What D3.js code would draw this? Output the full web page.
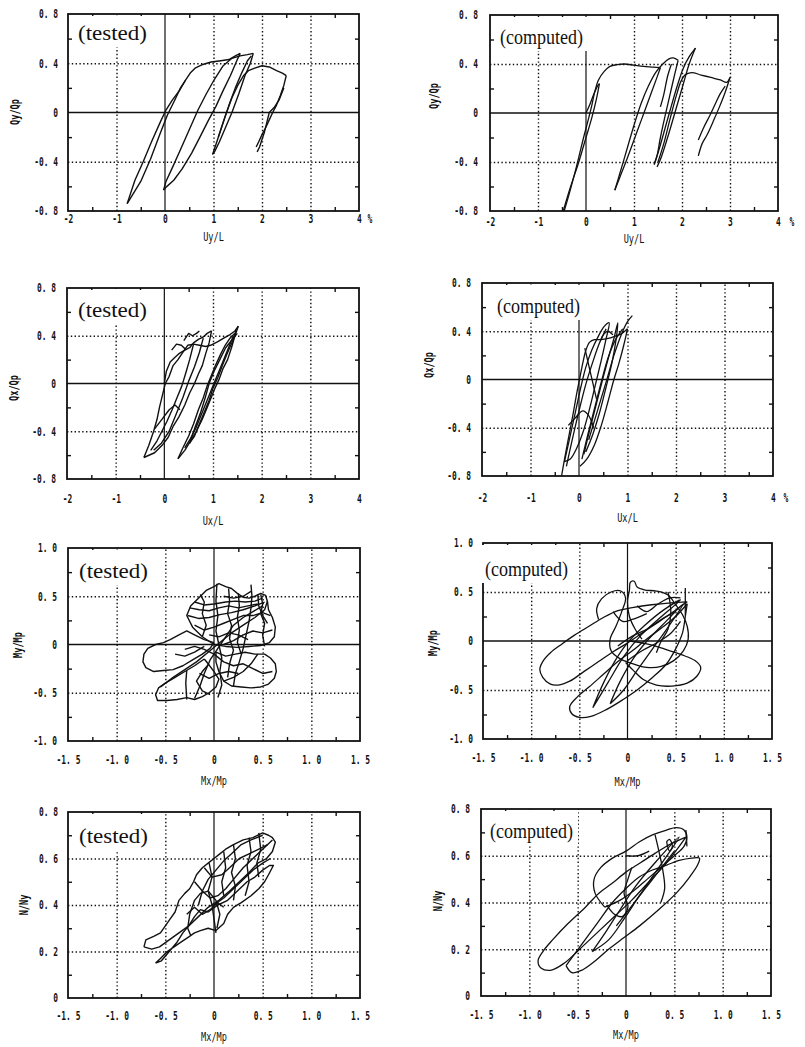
<!DOCTYPE html>
<html>
<head>
<meta charset="utf-8">
<script src="https://cdn.jsdelivr.net/npm/d3@7"></script>
<style>
  body { margin: 0; background: #fff; }
  svg { display: block; }
</style>
</head>
<body>
<svg id="chart"></svg>
<script>
const width = 805, height = 1047;

// ---- tick values and labels ----
const xTicksU = [-2, -1, 0, 1, 2, 3, 4];
const xLabelsU = ["-2", "-1", "0", "1", "2", "3", "4"];
const yTicksQ = [-0.8, -0.4, 0, 0.4, 0.8];
const yLabelsQ = ["-0. 8", "-0. 4", "0", "0. 4", "0. 8"];
const xTicksM = [-1.5, -1, -0.5, 0, 0.5, 1, 1.5];
const xLabelsM = ["-1. 5", "-1. 0", "-0. 5", "0", "0. 5", "1. 0", "1. 5"];
const yTicksMy = [-1, -0.5, 0, 0.5, 1];
const yLabelsMy = ["-1. 0", "-0. 5", "0", "0. 5", "1. 0"];
const yTicksN = [0, 0.2, 0.4, 0.6, 0.8];
const yLabelsN = ["0", "0. 2", "0. 4", "0. 6", "0. 8"];

// ---- curves, [x, y] in data units, one array per stroke ----
const qyTested = [
  [[0.42,0.26],[0.32,0.2],[0.2,0.1],[0.05,-0.02],[-0.1,-0.17],[-0.3,-0.38],[-0.5,-0.56],[-0.78,-0.74]],
  [[-0.78,-0.74],[-0.62,-0.55],[-0.45,-0.4],[-0.28,-0.24],[-0.1,-0.08],[0.02,0.02],[0.15,0.1],[0.3,0.18],[0.42,0.26],[0.52,0.32],[0.62,0.36],[0.78,0.39],[0.95,0.41],[1.15,0.42],[1.32,0.43],[1.45,0.46],[1.55,0.48]],
  [[1.55,0.48],[1.48,0.42],[1.35,0.3],[1.2,0.18],[1.05,0.05],[0.9,-0.06],[0.72,-0.2],[0.55,-0.33],[0.35,-0.46],[0.18,-0.55],[0.04,-0.6],[-0.03,-0.63]],
  [[-0.03,-0.63],[0.02,-0.56],[0.15,-0.45],[0.32,-0.3],[0.5,-0.14],[0.68,0.02],[0.85,0.15],[1.02,0.27],[1.2,0.38],[1.38,0.44],[1.55,0.46],[1.7,0.47],[1.82,0.48]],
  [[1.82,0.48],[1.76,0.4],[1.65,0.3],[1.52,0.15],[1.38,0.0],[1.25,-0.12],[1.12,-0.24],[1.02,-0.32],[0.98,-0.34]],
  [[0.98,-0.34],[1.05,-0.26],[1.15,-0.14],[1.25,-0.02],[1.38,0.12],[1.5,0.22],[1.62,0.3],[1.72,0.34],[1.85,0.36],[2.0,0.38],[2.15,0.37],[2.3,0.34],[2.42,0.32],[2.5,0.3]],
  [[2.5,0.3],[2.45,0.22],[2.38,0.14],[2.3,0.06],[2.22,0.0],[2.15,-0.06],[2.08,-0.12],[2.0,-0.18],[1.93,-0.24],[1.88,-0.28]],
  [[2.45,0.2],[2.35,0.1],[2.25,0.04],[2.15,0.0],[2.1,-0.08],[2.05,-0.16],[2.0,-0.22],[1.95,-0.28],[1.9,-0.32]],
  [[1.1,-0.2],[1.2,-0.08],[1.32,0.06],[1.45,0.2],[1.58,0.32],[1.7,0.42],[1.78,0.46]]
];
const qyComputed = [
  [[0,0],[0.08,0.07],[0.16,0.15],[0.24,0.22],[0.28,0.24]],
  [[0.28,0.24],[0.22,0.12],[0.12,-0.04],[0.0,-0.2],[-0.15,-0.4],[-0.32,-0.6],[-0.49,-0.82]],
  [[-0.47,-0.82],[-0.35,-0.66],[-0.2,-0.44],[-0.05,-0.2],[0.05,-0.05],[0.12,0.06],[0.18,0.17],[0.26,0.27],[0.38,0.34],[0.5,0.38],[0.65,0.395],[0.8,0.4],[1.0,0.39],[1.2,0.38],[1.4,0.375],[1.55,0.37]],
  [[1.55,0.37],[1.45,0.26],[1.3,0.1],[1.15,-0.06],[1.0,-0.22],[0.85,-0.38],[0.7,-0.53],[0.6,-0.63]],
  [[0.6,-0.63],[0.7,-0.5],[0.85,-0.3],[1.0,-0.1],[1.15,0.08],[1.3,0.22],[1.45,0.33],[1.6,0.4],[1.72,0.44],[1.82,0.45],[1.92,0.43]],
  [[1.92,0.43],[1.85,0.32],[1.75,0.15],[1.65,-0.02],[1.55,-0.2],[1.48,-0.35],[1.42,-0.42]],
  [[1.42,-0.42],[1.52,-0.3],[1.65,-0.12],[1.78,0.06],[1.9,0.22],[2.02,0.36],[2.15,0.46],[2.28,0.53]],
  [[2.28,0.53],[2.15,0.4],[2.0,0.2],[1.85,0.0],[1.7,-0.2],[1.55,-0.38],[1.48,-0.44]],
  [[1.5,-0.4],[1.62,-0.25],[1.75,-0.05],[1.88,0.14],[1.98,0.26],[2.06,0.31],[2.2,0.33],[2.4,0.31],[2.6,0.29],[2.8,0.27],[2.93,0.25],[3.0,0.29]],
  [[3.0,0.29],[2.9,0.17],[2.78,0.05],[2.66,-0.06],[2.52,-0.18],[2.42,-0.25],[2.34,-0.35]],
  [[2.34,-0.22],[2.45,-0.12],[2.58,-0.02],[2.7,0.08],[2.8,0.16],[2.9,0.22]],
  [[1.55,0.05],[1.62,0.15],[1.7,0.3],[1.78,0.4]]
];
const qxTested = [
  [[0,0],[0.04,0.1],[0.12,0.18],[0.22,0.22],[0.3,0.25],[0.42,0.28],[0.52,0.3],[0.6,0.34],[0.7,0.37],[0.8,0.39],[0.88,0.42],[0.97,0.44]],
  [[0.97,0.44],[0.92,0.34],[0.85,0.25],[0.78,0.15],[0.7,0.08],[0.62,0.0],[0.52,-0.08],[0.42,-0.18],[0.3,-0.28],[0.18,-0.36],[0.08,-0.45],[-0.05,-0.52],[-0.2,-0.58],[-0.42,-0.62]],
  [[-0.42,-0.62],[-0.32,-0.52],[-0.22,-0.4],[-0.15,-0.3],[-0.1,-0.2],[-0.04,-0.1],[0.02,0.0],[0.1,0.06],[0.18,0.15],[0.28,0.2],[0.38,0.26],[0.48,0.32],[0.6,0.33],[0.72,0.32],[0.85,0.31],[0.95,0.32],[1.1,0.35],[1.22,0.38],[1.35,0.41],[1.45,0.44],[1.52,0.48]],
  [[1.52,0.48],[1.45,0.4],[1.38,0.3],[1.3,0.2],[1.2,0.12],[1.12,0.03],[1.05,-0.03],[0.98,-0.1],[0.88,-0.2],[0.78,-0.3],[0.66,-0.4],[0.54,-0.48],[0.42,-0.56],[0.28,-0.63]],
  [[0.28,-0.63],[0.38,-0.54],[0.5,-0.44],[0.6,-0.34],[0.7,-0.22],[0.8,-0.12],[0.88,-0.02],[0.96,0.06],[1.05,0.15],[1.15,0.24],[1.25,0.32],[1.35,0.38],[1.45,0.42]],
  [[1.48,0.45],[1.4,0.35],[1.3,0.26],[1.2,0.16],[1.1,0.05],[1.0,-0.04],[0.92,-0.14],[0.82,-0.24],[0.72,-0.34],[0.62,-0.44],[0.52,-0.5]],
  [[0.52,-0.5],[0.62,-0.38],[0.74,-0.25],[0.84,-0.12],[0.92,0.0],[1.02,0.1],[1.14,0.2],[1.26,0.3],[1.38,0.36],[1.5,0.42]],
  [[0.6,0.33],[0.52,0.2],[0.45,0.1],[0.36,-0.02],[0.26,-0.12],[0.16,-0.22],[0.05,-0.32],[-0.05,-0.4],[-0.15,-0.48],[-0.28,-0.56]],
  [[-0.2,-0.38],[-0.05,-0.3],[0.1,-0.22],[0.22,-0.18],[0.32,-0.22]],
  [[0.15,0.28],[0.25,0.33],[0.35,0.32],[0.45,0.28]],
  [[0.8,0.38],[0.72,0.26],[0.62,0.14],[0.5,0.02],[0.38,-0.12],[0.24,-0.26],[0.1,-0.4],[-0.06,-0.5],[-0.22,-0.56]],
  [[1.42,0.4],[1.34,0.32],[1.24,0.22],[1.14,0.12],[1.04,0.02],[0.94,-0.08],[0.84,-0.18],[0.74,-0.28],[0.64,-0.38],[0.54,-0.46],[0.42,-0.54]],
  [[0.4,0.36],[0.5,0.42],[0.58,0.4],[0.66,0.42],[0.72,0.44]]
];
const qxComputed = [
  [[-0.36,-0.8],[-0.28,-0.62],[-0.2,-0.45],[-0.12,-0.28],[-0.04,-0.1],[0.02,0.02],[0.08,0.14],[0.14,0.24],[0.22,0.31],[0.32,0.33],[0.45,0.33],[0.6,0.34],[0.75,0.36],[0.88,0.38],[1.0,0.42]],
  [[1.0,0.42],[0.92,0.28],[0.82,0.13],[0.72,0.0],[0.6,-0.18],[0.46,-0.38],[0.32,-0.54],[0.16,-0.66],[0.02,-0.72]],
  [[-0.3,-0.68],[-0.2,-0.5],[-0.08,-0.28],[0.04,-0.06],[0.14,0.1],[0.26,0.24],[0.4,0.36],[0.52,0.44],[0.62,0.47],[0.56,0.34],[0.46,0.16],[0.34,-0.04],[0.22,-0.24],[0.08,-0.44],[-0.06,-0.58],[-0.18,-0.66],[-0.3,-0.68]],
  [[0.1,-0.62],[0.22,-0.42],[0.36,-0.2],[0.5,0.02],[0.62,0.2],[0.72,0.34],[0.8,0.47],[0.76,0.32],[0.68,0.14],[0.56,-0.06],[0.42,-0.28],[0.28,-0.46],[0.14,-0.6]],
  [[0.2,-0.5],[0.38,-0.26],[0.56,-0.02],[0.72,0.2],[0.88,0.38],[1.0,0.48],[1.1,0.53]],
  [[-0.22,-0.38],[-0.08,-0.32],[0.08,-0.26],[0.2,-0.3],[0.3,-0.4]],
  [[0.12,0.26],[0.2,0.12],[0.28,-0.02],[0.36,-0.16]],
  [[0.45,0.33],[0.52,0.38],[0.6,0.4],[0.7,0.37]],
  [[-0.26,-0.72],[-0.14,-0.5],[0.0,-0.26],[0.14,-0.04],[0.28,0.14],[0.42,0.3],[0.56,0.42]],
  [[0.06,-0.66],[0.18,-0.46],[0.32,-0.24],[0.46,-0.02],[0.6,0.18],[0.74,0.32],[0.9,0.42]]
];
const myTested = [
  [[0.0,0.02],[-0.1,0.05],[-0.2,0.1],[-0.28,0.14],[-0.36,0.1],[-0.45,0.05],[-0.52,0.02],[-0.6,0.0],[-0.68,-0.04],[-0.72,-0.1],[-0.73,-0.18],[-0.7,-0.24],[-0.62,-0.28],[-0.52,-0.27],[-0.42,-0.26],[-0.32,-0.22],[-0.22,-0.16],[-0.12,-0.1],[-0.04,-0.04],[0.0,0.02]],
  [[-0.1,-0.15],[-0.2,-0.22],[-0.3,-0.28],[-0.4,-0.34],[-0.5,-0.4],[-0.57,-0.45],[-0.6,-0.52],[-0.58,-0.58],[-0.48,-0.58],[-0.38,-0.57],[-0.28,-0.55],[-0.2,-0.57],[-0.12,-0.54],[-0.05,-0.5],[0.02,-0.44],[0.05,-0.36],[0.0,-0.28],[-0.06,-0.2],[-0.1,-0.15]],
  [[0.02,-0.08],[0.12,-0.12],[0.22,-0.1],[0.32,-0.08],[0.42,-0.1],[0.52,-0.1],[0.58,-0.14],[0.63,-0.2],[0.64,-0.28],[0.62,-0.35],[0.56,-0.41],[0.48,-0.44],[0.38,-0.45],[0.28,-0.44],[0.18,-0.43],[0.1,-0.38],[0.05,-0.28],[0.02,-0.18],[0.02,-0.08]],
  [[0.0,0.0],[-0.12,0.08],[-0.22,0.18],[-0.28,0.3],[-0.24,0.4],[-0.16,0.48],[-0.08,0.56],[0.0,0.6],[0.05,0.63],[0.12,0.6],[0.18,0.58],[0.24,0.53],[0.3,0.49],[0.36,0.48],[0.42,0.5],[0.48,0.53],[0.53,0.51],[0.55,0.44],[0.56,0.36],[0.6,0.28],[0.63,0.18],[0.62,0.08],[0.57,0.02],[0.48,-0.01],[0.36,-0.02],[0.24,-0.03],[0.12,-0.02],[0.0,0.0]],
  [[0.38,0.62],[0.39,0.5],[0.38,0.38],[0.36,0.24],[0.33,0.1],[0.3,-0.04],[0.26,-0.18],[0.22,-0.3],[0.2,-0.43]],
  [[0.03,0.63],[0.02,0.45],[0.04,0.3],[0.02,0.14],[0.05,0.0],[0.08,-0.14],[0.06,-0.28],[0.08,-0.42],[0.04,-0.55]],
  [[-0.55,-0.44],[-0.42,-0.34],[-0.3,-0.26],[-0.18,-0.18],[-0.06,-0.08],[0.06,0.02],[0.18,0.12],[0.3,0.2],[0.42,0.28],[0.52,0.36],[0.55,0.45]],
  [[-0.2,-0.56],[-0.14,-0.42],[-0.1,-0.3],[-0.04,-0.16],[0.04,-0.04],[0.12,0.08],[0.2,0.2],[0.3,0.28],[0.4,0.34],[0.5,0.4]],
  [[-0.27,0.3],[-0.16,0.27],[-0.05,0.28],[0.06,0.31],[0.18,0.33],[0.3,0.36],[0.42,0.4],[0.52,0.44]],
  [[-0.2,0.44],[-0.1,0.41],[0.0,0.42],[0.12,0.44],[0.22,0.45],[0.32,0.44],[0.42,0.45],[0.5,0.48]],
  [[-0.12,0.08],[-0.08,0.2],[-0.12,0.32],[-0.1,0.44],[-0.14,0.52]],
  [[0.15,0.58],[0.16,0.45],[0.14,0.32],[0.18,0.2],[0.16,0.06],[0.2,-0.06],[0.16,-0.2],[0.14,-0.34]],
  [[-0.28,-0.27],[-0.29,-0.4],[-0.28,-0.57]],
  [[0.6,0.15],[0.5,0.12],[0.4,0.14],[0.3,0.1],[0.2,0.04],[0.1,0.0]],
  [[0.45,-0.1],[0.38,-0.2],[0.3,-0.28],[0.2,-0.34],[0.1,-0.38]],
  [[-0.05,-0.2],[-0.12,-0.28],[-0.18,-0.38],[-0.12,-0.48],[-0.04,-0.52]],
  [[0.45,0.52],[0.46,0.4],[0.5,0.3],[0.55,0.22]],
  [[-0.25,0.38],[-0.15,0.36],[-0.05,0.35],[0.05,0.38],[0.15,0.4],[0.25,0.38],[0.35,0.4],[0.45,0.42]],
  [[-0.2,0.2],[-0.1,0.15],[0.0,0.18],[0.1,0.22],[0.2,0.26],[0.3,0.3],[0.4,0.3],[0.5,0.33],[0.58,0.3]],
  [[0.25,0.53],[0.26,0.4],[0.24,0.28],[0.26,0.15],[0.24,0.02],[0.28,-0.1]],
  [[0.48,0.52],[0.5,0.42],[0.48,0.32],[0.52,0.22],[0.5,0.1],[0.52,-0.02]],
  [[-0.3,-0.05],[-0.2,-0.02],[-0.1,-0.05],[0.0,-0.1],[0.1,-0.18],[0.2,-0.22],[0.3,-0.2],[0.4,-0.25],[0.5,-0.3],[0.6,-0.28]],
  [[-0.4,-0.1],[-0.3,-0.12],[-0.2,-0.08],[-0.1,-0.02]],
  [[-0.15,-0.3],[-0.05,-0.35],[0.05,-0.3],[0.15,-0.28],[0.25,-0.3]],
  [[0.1,0.5],[0.2,0.48],[0.3,0.5],[0.38,0.55]],
  [[-0.05,0.1],[0.05,0.08],[0.15,0.12],[0.25,0.1],[0.35,0.05]]
];
const myComputed = [
  [[0.62,0.4],[0.45,0.39],[0.25,0.37],[0.05,0.34],[-0.1,0.31],[-0.25,0.24],[-0.4,0.15],[-0.55,0.06],[-0.68,-0.03],[-0.8,-0.12],[-0.88,-0.21],[-0.91,-0.29],[-0.88,-0.37],[-0.8,-0.44],[-0.72,-0.45],[-0.6,-0.41],[-0.45,-0.31],[-0.3,-0.21],[-0.15,-0.11],[0.0,-0.02],[0.15,0.08],[0.3,0.18],[0.45,0.28],[0.62,0.4]],
  [[0.62,0.38],[0.6,0.25],[0.57,0.08],[0.5,-0.08],[0.4,-0.24],[0.25,-0.38],[0.1,-0.5],[-0.05,-0.6],[-0.22,-0.7],[-0.38,-0.77],[-0.5,-0.78],[-0.58,-0.74],[-0.6,-0.67],[-0.52,-0.57],[-0.4,-0.47],[-0.25,-0.34],[-0.1,-0.21],[0.05,-0.1],[0.2,0.02],[0.35,0.13],[0.5,0.25],[0.62,0.38]],
  [[0.02,0.0],[0.2,-0.03],[0.38,-0.08],[0.56,-0.14],[0.7,-0.2],[0.76,-0.27],[0.72,-0.36],[0.62,-0.43],[0.46,-0.46],[0.3,-0.45],[0.16,-0.39],[0.06,-0.3],[-0.02,-0.22]],
  [[-0.3,0.22],[-0.32,0.33],[-0.27,0.43],[-0.17,0.5],[-0.07,0.51],[-0.02,0.44],[-0.06,0.3],[-0.12,0.15],[-0.18,0.02],[-0.17,-0.1],[-0.08,-0.18],[0.05,-0.23],[0.2,-0.27],[0.35,-0.26],[0.48,-0.2],[0.58,-0.1],[0.63,0.02],[0.62,0.15],[0.57,0.27],[0.5,0.37],[0.42,0.47],[0.3,0.51],[0.18,0.52],[0.1,0.55],[0.07,0.61],[0.03,0.6],[0.02,0.52],[0.0,0.4],[0.02,0.25],[0.08,0.12],[0.15,0.02]],
  [[-0.36,-0.68],[-0.26,-0.45],[-0.14,-0.22],[0.0,-0.02],[0.18,0.16],[0.38,0.32],[0.55,0.42],[0.34,0.24],[0.14,0.06],[-0.04,-0.16],[-0.2,-0.42],[-0.36,-0.68]],
  [[-0.18,-0.64],[-0.08,-0.42],[0.06,-0.18],[0.22,0.02],[0.4,0.2],[0.58,0.38],[0.42,0.14],[0.26,-0.08],[0.1,-0.3],[-0.04,-0.5],[-0.18,-0.64]],
  [[0.6,0.54],[0.6,0.26]],
  [[0.1,0.36],[0.2,0.3],[0.32,0.38],[0.44,0.44],[0.55,0.44]],
  [[0.42,0.5],[0.44,0.4],[0.45,0.28],[0.42,0.12],[0.35,0.0],[0.3,-0.12]],
  [[-0.15,0.3],[-0.05,0.2],[0.05,0.22],[0.2,0.28]],
  [[-0.1,-0.05],[0.05,0.05],[0.2,0.12],[0.35,0.22],[0.5,0.3]],
  [[0.0,-0.2],[0.15,-0.1],[0.3,-0.02],[0.45,0.08],[0.55,0.2]]
];
const nTested = [
  [[-0.72,0.22],[-0.7,0.25],[-0.62,0.265],[-0.55,0.28],[-0.5,0.31],[-0.45,0.34],[-0.4,0.37],[-0.36,0.42],[-0.3,0.45],[-0.25,0.47],[-0.21,0.5],[-0.18,0.53],[-0.12,0.56],[-0.06,0.58],[0.0,0.6],[0.06,0.62],[0.12,0.64],[0.2,0.66],[0.3,0.68],[0.4,0.69],[0.5,0.71],[0.56,0.7],[0.6,0.69],[0.63,0.67],[0.6,0.63],[0.54,0.6],[0.45,0.58],[0.36,0.54],[0.26,0.5],[0.16,0.46],[0.05,0.42],[-0.06,0.39],[-0.16,0.35],[-0.26,0.31],[-0.36,0.28],[-0.46,0.25],[-0.56,0.22],[-0.64,0.21],[-0.72,0.22]],
  [[-0.6,0.15],[-0.55,0.17],[-0.48,0.2],[-0.41,0.22],[-0.34,0.24],[-0.27,0.26],[-0.2,0.28],[-0.14,0.29],[-0.06,0.3],[0.02,0.29],[0.1,0.32],[0.14,0.36],[0.2,0.39],[0.28,0.41],[0.38,0.44],[0.46,0.47],[0.52,0.5],[0.56,0.53],[0.61,0.57],[0.57,0.57],[0.5,0.55],[0.42,0.52],[0.34,0.5],[0.24,0.46],[0.14,0.42],[0.04,0.4],[-0.06,0.37],[-0.14,0.38],[-0.2,0.35],[-0.26,0.31],[-0.32,0.28],[-0.38,0.24],[-0.46,0.2],[-0.54,0.16],[-0.6,0.15]],
  [[-0.2,0.5],[-0.12,0.46],[-0.04,0.43],[0.04,0.44],[0.12,0.47],[0.2,0.51],[0.3,0.56],[0.4,0.6],[0.5,0.64],[0.6,0.68]],
  [[-0.16,0.4],[-0.12,0.46],[-0.06,0.51],[0.02,0.55],[0.1,0.59],[0.18,0.62],[0.28,0.66],[0.38,0.68],[0.5,0.7]],
  [[0.03,0.3],[0.06,0.36],[0.02,0.42],[-0.06,0.46],[-0.14,0.45],[-0.2,0.42],[-0.25,0.36],[-0.27,0.3],[-0.24,0.27]],
  [[-0.1,0.56],[-0.02,0.52],[0.08,0.53],[0.16,0.56],[0.26,0.6],[0.36,0.62],[0.46,0.64],[0.55,0.66]],
  [[0.0,0.4],[0.1,0.43],[0.2,0.47],[0.3,0.51],[0.4,0.55],[0.5,0.58],[0.58,0.6]],
  [[-0.28,0.36],[-0.2,0.39],[-0.12,0.36],[-0.04,0.38],[0.04,0.41],[0.1,0.39]],
  [[0.2,0.66],[0.22,0.6],[0.18,0.54],[0.22,0.48],[0.2,0.42]],
  [[0.36,0.69],[0.38,0.63],[0.34,0.57],[0.36,0.5],[0.32,0.44]],
  [[-0.05,0.58],[-0.02,0.52],[-0.06,0.46],[-0.02,0.4],[0.0,0.34],[0.02,0.28]],
  [[0.1,0.63],[0.12,0.56],[0.08,0.5],[0.1,0.44]],
  [[0.46,0.71],[0.48,0.64],[0.44,0.58],[0.46,0.52]]
];
const nComputed = [
  [[0.62,0.68],[0.46,0.65],[0.3,0.61],[0.15,0.57],[0.0,0.53],[-0.15,0.48],[-0.28,0.44],[-0.42,0.38],[-0.6,0.31],[-0.76,0.24],[-0.86,0.19],[-0.91,0.15],[-0.88,0.12],[-0.78,0.11],[-0.64,0.14],[-0.48,0.2],[-0.3,0.27],[-0.12,0.34],[0.06,0.41],[0.24,0.49],[0.42,0.57],[0.62,0.68]],
  [[-0.62,0.13],[-0.56,0.1],[-0.46,0.11],[-0.32,0.15],[-0.18,0.2],[-0.02,0.25],[0.14,0.3],[0.34,0.37],[0.52,0.44],[0.66,0.51],[0.74,0.56],[0.76,0.59],[0.68,0.59],[0.55,0.58],[0.42,0.56],[0.28,0.54],[0.14,0.51],[0.0,0.46],[-0.14,0.4],[-0.3,0.31],[-0.46,0.22],[-0.62,0.13]],
  [[-0.22,0.38],[-0.32,0.44],[-0.33,0.5],[-0.26,0.55],[-0.14,0.59],[0.0,0.62],[0.14,0.66],[0.28,0.69],[0.42,0.71],[0.52,0.72],[0.6,0.71],[0.63,0.68],[0.6,0.64],[0.5,0.6],[0.36,0.55],[0.22,0.5],[0.08,0.45],[-0.06,0.41],[-0.22,0.38]],
  [[-0.35,0.19],[-0.2,0.28],[-0.06,0.37],[0.1,0.47],[0.3,0.57],[0.55,0.68],[0.34,0.55],[0.14,0.43],[-0.02,0.33],[-0.18,0.24],[-0.35,0.19]],
  [[-0.2,0.39],[-0.12,0.35],[-0.04,0.34],[0.02,0.38],[-0.02,0.44],[0.02,0.5],[0.06,0.55]],
  [[0.0,0.6],[0.12,0.6],[0.24,0.62]],
  [[0.62,0.71],[0.63,0.64]],
  [[0.42,0.66],[0.45,0.62],[0.48,0.64],[0.45,0.67],[0.42,0.66]],
  [[0.3,0.69],[0.34,0.62],[0.38,0.54],[0.4,0.46],[0.36,0.4]],
  [[-0.1,0.3],[0.05,0.38],[0.2,0.46],[0.35,0.54],[0.5,0.62]]
];

// ---- panel layout ----
const panels = [
  { curves: qyTested, smooth: false, box: [68, 14, 359, 211], xd: [-2, 4], yd: [-0.8, 0.8],
    xt: xTicksU, xl: xLabelsU, yt: yTicksQ, yl: yLabelsQ,
    xGrid: [-1, 1, 2, 3], yGrid: [-0.4, 0.4], xMinor: [-1.5, -0.5, 0.5, 1.5, 2.5, 3.5], yMinor: [-0.6, -0.2, 0.2, 0.6],
    tag: "(tested)", tagX: 78, tagY: 40, tagLen: 69, xName: "Uy/L", xNameY: 241, yName: "Qy/Qp", yNameX: 14, yNameY: 112,
    xLabY: 223, yLabX: 58, pct: 370, zeroH: true },
  { curves: qyComputed, smooth: true, box: [490, 15, 778, 211], xd: [-2, 4], yd: [-0.8, 0.8],
    xt: xTicksU, xl: xLabelsU, yt: yTicksQ, yl: yLabelsQ,
    xGrid: [-1, 1, 2, 3], yGrid: [-0.4, 0.4], xMinor: [-1.5, -0.5, 0.5, 1.5, 2.5, 3.5], yMinor: [-0.6, -0.2, 0.2, 0.6],
    tag: "(computed)", tagX: 500, tagY: 44, tagLen: 83, xName: "Uy/L", xNameY: 243, yName: "Qy/Qp", yNameX: 433, yNameY: 96,
    xLabY: 226, yLabX: 478, pct: 792, zeroH: true },
  { curves: qxTested, smooth: false, box: [67, 288, 359, 479], xd: [-2, 4], yd: [-0.8, 0.8],
    xt: xTicksU, xl: xLabelsU, yt: yTicksQ, yl: yLabelsQ,
    xGrid: [-1, 1, 2, 3], yGrid: [-0.4, 0.4], xMinor: [-1.5, -0.5, 0.5, 1.5, 2.5, 3.5], yMinor: [-0.6, -0.2, 0.2, 0.6],
    tag: "(tested)", tagX: 78, tagY: 317, tagLen: 69, xName: "Ux/L", xNameY: 525, yName: "Qx/Qp", yNameX: 13, yNameY: 388,
    xLabY: 503, yLabX: 56, pct: null, zeroH: true },
  { curves: qxComputed, smooth: true, box: [482, 283, 773, 476], xd: [-2, 4], yd: [-0.8, 0.8],
    xt: xTicksU, xl: xLabelsU, yt: yTicksQ, yl: yLabelsQ,
    xGrid: [-1, 1, 2, 3], yGrid: [-0.4, 0.4], xMinor: [-1.5, -0.5, 0.5, 1.5, 2.5, 3.5], yMinor: [-0.6, -0.2, 0.2, 0.6],
    tag: "(computed)", tagX: 497, tagY: 313, tagLen: 83, xName: "Ux/L", xNameY: 522, yName: "Qx/Qp", yNameX: 428, yNameY: 365,
    xLabY: 502, yLabX: 471, pct: 786, zeroH: true },
  { curves: myTested, smooth: false, box: [68, 548, 360, 741], xd: [-1.5, 1.5], yd: [-1, 1],
    xt: xTicksM, xl: xLabelsM, yt: yTicksMy, yl: yLabelsMy,
    xGrid: [-1, -0.5, 0.5, 1], yGrid: [-0.5, 0.5], xMinor: [-1.25, -0.75, -0.25, 0.25, 0.75, 1.25], yMinor: [-0.75, -0.25, 0.25, 0.75],
    tag: "(tested)", tagX: 79, tagY: 578, tagLen: 69, xName: "Mx/Mp", xNameY: 785, yName: "My/Mp", yNameX: 17, yNameY: 645,
    xLabY: 764, yLabX: 57, pct: null, zeroH: true },
  { curves: myComputed, smooth: true, box: [483, 543, 772, 739], xd: [-1.5, 1.5], yd: [-1, 1],
    xt: xTicksM, xl: xLabelsM, yt: yTicksMy, yl: yLabelsMy,
    xGrid: [-1, -0.5, 0.5, 1], yGrid: [-0.5, 0.5], xMinor: [-1.25, -0.75, -0.25, 0.25, 0.75, 1.25], yMinor: [-0.75, -0.25, 0.25, 0.75],
    tag: "(computed)", tagX: 485, tagY: 576, tagLen: 83, xName: "Mx/Mp", xNameY: 786, yName: "My/Mp", yNameX: 432, yNameY: 643,
    xLabY: 762, yLabX: 473, pct: null, zeroH: true },
  { curves: nTested, smooth: false, box: [68, 812, 360, 998], xd: [-1.5, 1.5], yd: [0, 0.8],
    xt: xTicksM, xl: xLabelsM, yt: yTicksN, yl: yLabelsN,
    xGrid: [-1, -0.5, 0.5, 1], yGrid: [0.2, 0.4, 0.6], xMinor: [-1.25, -0.75, -0.25, 0.25, 0.75, 1.25], yMinor: [0.1, 0.3, 0.5, 0.7],
    tag: "(tested)", tagX: 79, tagY: 843, tagLen: 69, xName: "Mx/Mp", xNameY: 1041, yName: "N/Ny", yNameX: 23, yNameY: 905,
    xLabY: 1020, yLabX: 58, pct: null, zeroH: false },
  { curves: nComputed, smooth: true, box: [481, 809, 771, 996], xd: [-1.5, 1.5], yd: [0, 0.8],
    xt: xTicksM, xl: xLabelsM, yt: yTicksN, yl: yLabelsN,
    xGrid: [-1, -0.5, 0.5, 1], yGrid: [0.2, 0.4, 0.6], xMinor: [-1.25, -0.75, -0.25, 0.25, 0.75, 1.25], yMinor: [0.1, 0.3, 0.5, 0.7],
    tag: "(computed)", tagX: 490, tagY: 838, tagLen: 83, xName: "Mx/Mp", xNameY: 1039, yName: "N/Ny", yNameX: 437, yNameY: 901,
    xLabY: 1019, yLabX: 470, pct: null, zeroH: false }
];

const ink = "#111";
const monoFont = "'DejaVu Sans Mono', monospace";
const squeeze = "scale(0.66,1)";

const svg = d3.select("#chart")
    .attr("width", width)
    .attr("height", height)
    .attr("viewBox", `0 0 ${width} ${height}`);

svg.append("rect").attr("width", width).attr("height", height).attr("fill", "#fff");

panels.forEach((p, pi) => {
    const [x0, y0, x1, y1] = p.box;
    const x = d3.scaleLinear().domain(p.xd).range([x0, x1]);
    const y = d3.scaleLinear().domain(p.yd).range([y1, y0]);
    const g = svg.append("g");

    // dotted grid
    g.append("g")
        .attr("transform", `translate(0,${y1})`)
        .call(d3.axisBottom(x).tickValues(p.xGrid).tickSize(-(y1 - y0)).tickFormat(""))
        .call(a => a.select(".domain").remove())
        .selectAll("line")
        .attr("stroke", ink).attr("stroke-width", 1.4).attr("stroke-dasharray", "1.4,2.4");
    g.append("g")
        .attr("transform", `translate(${x0},0)`)
        .call(d3.axisLeft(y).tickValues(p.yGrid).tickSize(-(x1 - x0)).tickFormat(""))
        .call(a => a.select(".domain").remove())
        .selectAll("line")
        .attr("stroke", ink).attr("stroke-width", 1.4).attr("stroke-dasharray", "1.4,2.4");

    // solid zero lines
    g.append("line")
        .attr("x1", x(0)).attr("x2", x(0)).attr("y1", y0).attr("y2", y1)
        .attr("stroke", ink).attr("stroke-width", 1.2);
    if (p.zeroH) {
        g.append("line")
            .attr("x1", x0).attr("x2", x1).attr("y1", y(0)).attr("y2", y(0))
            .attr("stroke", ink).attr("stroke-width", 1.5);
    }

    // inward minor ticks on all four sides
    const tick = 4;
    [
        [d3.axisBottom(x), `translate(0,${y1})`, p.xMinor],
        [d3.axisTop(x), `translate(0,${y0})`, p.xMinor],
        [d3.axisLeft(y), `translate(${x0},0)`, p.yMinor],
        [d3.axisRight(y), `translate(${x1},0)`, p.yMinor]
    ].forEach(([ax, tr, vals]) => {
        g.append("g")
            .attr("transform", tr)
            .call(ax.tickValues(vals).tickSize(-tick).tickFormat(""))
            .call(a => a.select(".domain").remove())
            .selectAll("line").attr("stroke", ink).attr("stroke-width", 1.4);
    });

    // curves
    const clipId = "clip" + pi;
    g.append("clipPath").attr("id", clipId)
        .append("rect").attr("x", x0).attr("y", y0).attr("width", x1 - x0).attr("height", y1 - y0);
    const line = d3.line()
        .x(d => x(d[0]))
        .y(d => y(d[1]))
        .curve(p.smooth ? d3.curveCatmullRom.alpha(0.5) : d3.curveLinear);
    g.append("g")
        .attr("clip-path", `url(#${clipId})`)
        .selectAll("path")
        .data(p.curves)
        .join("path")
        .attr("d", line)
        .attr("fill", "none")
        .attr("stroke", ink)
        .attr("stroke-width", p.smooth ? 1.3 : 1.4)
        .attr("stroke-linejoin", "round");

    // frame
    g.append("rect")
        .attr("x", x0).attr("y", y0).attr("width", x1 - x0).attr("height", y1 - y0)
        .attr("fill", "none").attr("stroke", ink).attr("stroke-width", 1.8);

    // tag with white box
    g.append("rect")
        .attr("x", p.tagX - 5).attr("y", y0 + 2)
        .attr("width", p.tagLen + 10).attr("height", p.tagY + 7 - (y0 + 2))
        .attr("fill", "#fff");
    g.append("text")
        .attr("x", p.tagX).attr("y", p.tagY)
        .attr("font-family", "'Liberation Serif', 'Times New Roman', serif")
        .attr("font-size", 21)
        .attr("textLength", p.tagLen)
        .attr("lengthAdjust", "spacingAndGlyphs")
        .attr("fill", ink)
        .text(p.tag);

    // tick labels
    g.append("g")
        .attr("transform", `translate(0,${p.xLabY})`)
        .call(d3.axisBottom(x).tickValues(p.xt).tickFormat((d, i) => p.xl[i]).tickSize(0).tickPadding(0))
        .call(a => a.select(".domain").remove())
        .attr("font-family", monoFont).attr("font-size", 12).attr("font-weight", "bold")
        .selectAll("text")
        .attr("y", 0).attr("dy", 0)
        .attr("fill", ink)
        .attr("transform", squeeze);
    g.append("g")
        .attr("transform", `translate(${p.yLabX},0)`)
        .call(d3.axisLeft(y).tickValues(p.yt).tickFormat((d, i) => p.yl[i]).tickSize(0).tickPadding(0))
        .call(a => a.select(".domain").remove())
        .attr("font-family", monoFont).attr("font-size", 12).attr("font-weight", "bold")
        .selectAll("text")
        .attr("x", 0)
        .attr("fill", ink)
        .attr("transform", squeeze);

    if (p.pct) {
        g.append("text")
            .attr("transform", `translate(${p.pct},${p.xLabY}) ${squeeze}`)
            .attr("font-family", monoFont).attr("font-size", 12).attr("font-weight", "bold")
            .attr("text-anchor", "middle").attr("fill", ink)
            .text("%");
    }

    // axis names
    g.append("text")
        .attr("transform", `translate(${(x0 + x1) / 2},${p.xNameY}) ${squeeze}`)
        .attr("font-family", monoFont).attr("font-size", 13)
        .attr("text-anchor", "middle").attr("fill", ink)
        .text(p.xName);
    g.append("text")
        .attr("transform", `translate(${p.yNameX},${p.yNameY}) rotate(-90) ${squeeze}`)
        .attr("font-family", monoFont).attr("font-size", 13).attr("font-weight", "bold")
        .attr("text-anchor", "middle").attr("dy", "0.35em").attr("fill", ink)
        .text(p.yName);
});
</script>
</body>
</html>
